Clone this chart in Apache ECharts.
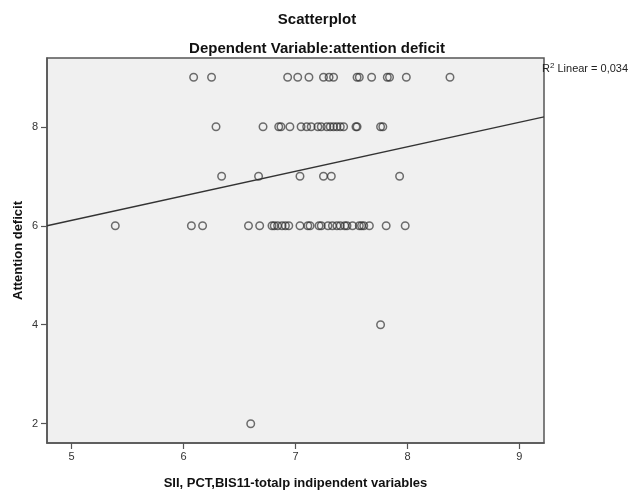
<!DOCTYPE html>
<html>
<head>
<meta charset="utf-8">
<script src="https://cdn.jsdelivr.net/npm/echarts@6/dist/echarts.min.js"></script>
<style>
  html, body { margin: 0; padding: 0; background: #fff; }
  #main { width: 629px; height: 491px; }
</style>
</head>
<body>
<div id="main"></div>
<script>
// predictor values (x) grouped by attention deficit score (y)
var yLevels = [9, 8, 7, 6, 4, 2];
var xAt9 = [6.09, 6.25, 6.93, 7.02, 7.12, 7.25, 7.30, 7.34, 7.55, 7.57, 7.68, 7.82, 7.84, 7.99, 8.38];
var xAt8 = [6.29, 6.71, 6.85, 6.87, 6.95, 7.05, 7.10, 7.14, 7.20, 7.23, 7.28, 7.31, 7.34, 7.37, 7.40, 7.43, 7.54, 7.55, 7.76, 7.78];
var xAt7 = [6.34, 6.67, 7.04, 7.25, 7.32, 7.93];
var xAt6 = [5.39, 6.07, 6.17, 6.58, 6.68, 6.79, 6.81, 6.84, 6.88, 6.91, 6.94, 7.04, 7.11, 7.13, 7.21, 7.23, 7.29, 7.33, 7.37, 7.40, 7.44, 7.46, 7.51, 7.57, 7.59, 7.61, 7.66, 7.81, 7.98];
var xAt4 = [7.76];
var xAt2 = [6.60];

// fit line read at the plot edges
var fitX = [4.78, 9.22];
var fitY = [6.0, 8.2];

var xTicks = [5, 6, 7, 8, 9];
var yTicks = [2, 4, 6, 8];

var rows = [xAt9, xAt8, xAt7, xAt6, xAt4, xAt2];
var points = [];
rows.forEach(function (xs, i) {
  xs.forEach(function (x) { points.push([x, yLevels[i]]); });
});
var fitData = fitX.map(function (x, i) { return [x, fitY[i]]; });

var font = '"Liberation Sans", Arial, sans-serif';
var chart = echarts.init(document.getElementById('main'));

chart.setOption({
  animation: false,
  textStyle: { fontFamily: font },
  title: [
    {
      text: 'Scatterplot',
      left: 312, top: 7, textAlign: 'center',
      textStyle: { fontSize: 15, fontWeight: 'bold', color: '#111', fontFamily: font }
    },
    {
      text: 'Dependent Variable:attention deficit',
      left: 312, top: 36, textAlign: 'center',
      textStyle: { fontSize: 15, fontWeight: 'bold', color: '#111', fontFamily: font }
    }
  ],
  graphic: [{
    type: 'text',
    left: 542, top: 62,
    style: {
      text: '{b|R}{s|2}{b| Linear = 0,034}',
      rich: {
        b: { fontSize: 11, fill: '#222', fontFamily: font },
        s: { fontSize: 8, fill: '#222', fontFamily: font, verticalAlign: 'top', padding: [0, 0, 5, 0] }
      }
    }
  }],
  grid: {
    left: 47, right: 85, top: 58, bottom: 48,
    outerBoundsMode: 'none',
    show: true,
    backgroundColor: '#f0f0f0',
    borderColor: '#555',
    borderWidth: 1.5
  },
  xAxis: {
    type: 'value',
    min: 4.78, max: 9.22,
    name: 'SII, PCT,BIS11-totalp indipendent variables',
    nameLocation: 'middle',
    nameGap: 34,
    nameMoveOverlap: false,
    nameTextStyle: { fontSize: 13, fontWeight: 'bold', color: '#111', fontFamily: font },
    axisLine: { show: true, lineStyle: { color: '#555', width: 1.5 } },
    axisTick: { show: true, length: 6, customValues: xTicks, lineStyle: { color: '#555', width: 1.2 } },
    axisLabel: { customValues: xTicks, margin: 8, fontSize: 11, color: '#333' },
    splitLine: { show: false }
  },
  yAxis: {
    type: 'value',
    min: 1.61, max: 9.39,
    name: 'Attention deficit',
    nameLocation: 'middle',
    nameGap: 22,
    nameMoveOverlap: false,
    nameTextStyle: { fontSize: 13, fontWeight: 'bold', color: '#111', fontFamily: font },
    axisLine: { show: true, lineStyle: { color: '#555', width: 1.5 } },
    axisTick: { show: true, length: 6, customValues: yTicks, lineStyle: { color: '#555', width: 1.2 } },
    axisLabel: { customValues: yTicks, margin: 9, fontSize: 11, color: '#333' },
    splitLine: { show: false }
  },
  series: [
    {
      type: 'scatter',
      data: points,
      symbol: 'circle',
      symbolSize: 7.5,
      itemStyle: {
        color: 'rgba(0,0,0,0)',
        borderColor: 'rgba(45,45,45,0.85)',
        borderWidth: 1.5
      }
    },
    {
      type: 'line',
      data: fitData,
      showSymbol: false,
      lineStyle: { color: '#333', width: 1.3 }
    }
  ]
});
</script>
</body>
</html>
